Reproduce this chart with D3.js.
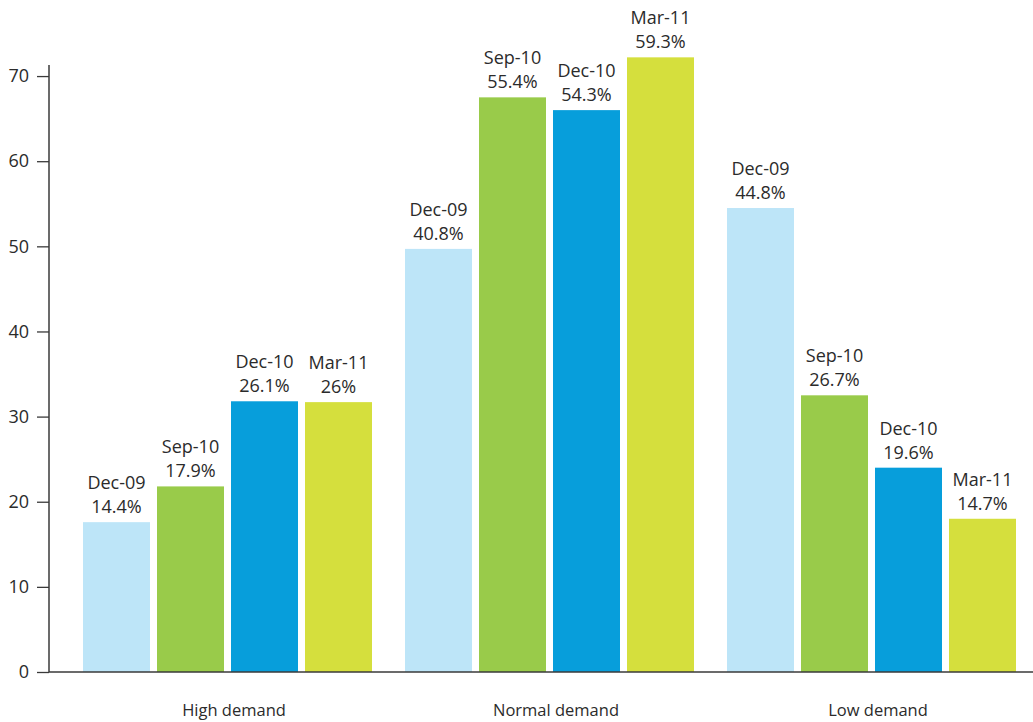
<!DOCTYPE html>
<html>
<head>
<meta charset="utf-8">
<script src="https://cdn.jsdelivr.net/npm/d3@7"></script>
<style>
  body { margin: 0; background: #fff; }
  svg text { font-family: "Open Sans", "Noto Sans", sans-serif; fill: #2b2b2b; }
</style>
</head>
<body>
<svg class="chart" width="1033" height="722"></svg>
<script>
(function() {
  // data
  var groups = ['High demand', 'Normal demand', 'Low demand'];
  var periods = ['Dec-09', 'Sep-10', 'Dec-10', 'Mar-11'];
  var colors = ['#bde5f8', '#99cb4a', '#079edb', '#d5df3d'];
  // bar heights on the axis scale
  var heights = [
    [17.6, 21.8, 31.8, 31.7],
    [49.7, 67.5, 66.0, 72.2],
    [54.5, 32.5, 24.0, 18.0]
  ];
  // printed share labels
  var shares = [
    ['14.4%', '17.9%', '26.1%', '26%'],
    ['40.8%', '55.4%', '54.3%', '59.3%'],
    ['44.8%', '26.7%', '19.6%', '14.7%']
  ];
  var yTicks = [0, 10, 20, 30, 40, 50, 60, 70];

  buildChart();

  function buildChart() {
    var svg = d3.select('.chart');
    var width = 1033;
    var axisX = 49;
    var base = 672;

    var y = d3.scaleLinear()
      .domain([0, 71.3])
      .range([base, 65]);

    var x0 = d3.scaleBand()
      .domain(groups)
      .range([67, width])
      .paddingInner(32 / 322)
      .paddingOuter(16 / 322);

    var x1 = d3.scaleBand()
      .domain(periods)
      .range([0, x0.bandwidth() - 1])
      .paddingInner(7 / 74)
      .paddingOuter(0);

    var rows = [];
    groups.forEach(function(g, gi) {
      periods.forEach(function(p, pi) {
        rows.push({ group: g, period: p, value: heights[gi][pi], share: shares[gi][pi], color: colors[pi] });
      });
    });

    svg.selectAll('rect.bar')
      .data(rows)
      .enter().append('rect')
        .attr('class', 'bar')
        .attr('x', function(d) { return x0(d.group) + x1(d.period); })
        .attr('width', x1.bandwidth())
        .attr('y', function(d) { return y(d.value); })
        .attr('height', function(d) { return y(0) - y(d.value); })
        .attr('fill', function(d) { return d.color; });

    var labels = svg.selectAll('text.bar-label')
      .data(rows)
      .enter().append('text')
        .attr('class', 'bar-label')
        .attr('text-anchor', 'middle')
        .attr('font-size', '18px')
        .attr('x', function(d) { return x0(d.group) + x1(d.period) + x1.bandwidth() / 2; })
        .attr('y', function(d) { return y(d.value) - 33; });

    labels.append('tspan').text(function(d) { return d.period; });
    labels.append('tspan')
      .attr('x', function(d) { return x0(d.group) + x1(d.period) + x1.bandwidth() / 2; })
      .attr('dy', 24)
      .text(function(d) { return d.share; });

    // y axis
    var yAxis = svg.append('g')
      .attr('transform', 'translate(' + axisX + ',0)')
      .call(d3.axisLeft(y).tickValues(yTicks).tickSize(12).tickPadding(8).tickSizeOuter(0));
    yAxis.select('.domain').remove();
    yAxis.selectAll('line').attr('stroke', '#3a3a3a').attr('stroke-width', 1.3);
    yAxis.selectAll('text')
      .attr('font-size', '18px')
      .attr('fill', '#2b2b2b')
      .style('font-family', '"Open Sans", "Noto Sans", sans-serif');

    svg.append('line')
      .attr('x1', axisX).attr('x2', axisX)
      .attr('y1', y(71.3)).attr('y2', y(0))
      .attr('stroke', '#3a3a3a').attr('stroke-width', 1.5);

    svg.append('line')
      .attr('x1', axisX).attr('x2', width)
      .attr('y1', y(0)).attr('y2', y(0))
      .attr('stroke', '#3a3a3a').attr('stroke-width', 1.5);

    // category labels
    svg.selectAll('text.group-label')
      .data(groups)
      .enter().append('text')
        .attr('class', 'group-label')
        .attr('text-anchor', 'middle')
        .attr('font-size', '16.5px')
        .attr('x', function(d) { return x0(d) + x0.bandwidth() / 2 + 6; })
        .attr('y', 716)
        .text(function(d) { return d; });
  }
})();
</script>
</body>
</html>
